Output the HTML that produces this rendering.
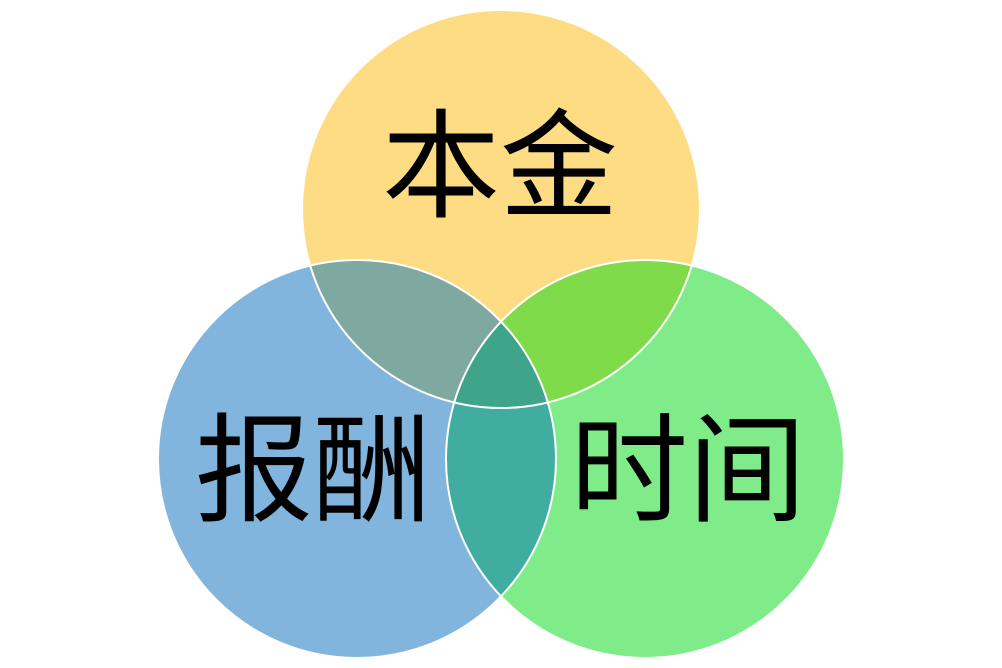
<!DOCTYPE html>
<html><head><meta charset="utf-8"><style>
html,body{margin:0;padding:0;background:#fff;}
svg{display:block}
text{font-family:"Liberation Sans","Noto Sans CJK SC",sans-serif;fill:#000;}
</style></head><body>
<svg width="1002" height="668" viewBox="0 0 1002 668" xmlns="http://www.w3.org/2000/svg">
<defs>
<clipPath id="cT"><circle cx="501" cy="209" r="199"/></clipPath>
<clipPath id="cL"><circle cx="357" cy="459" r="199"/></clipPath>
<clipPath id="cR"><circle cx="645" cy="459" r="199"/></clipPath>
</defs>
<circle cx="501" cy="209" r="199" fill="#FDDC84"/>
<circle cx="357" cy="459" r="199" fill="#81B5DD"/>
<circle cx="645" cy="459" r="199" fill="#80EC89"/>
<g clip-path="url(#cT)"><circle cx="357" cy="459" r="199" fill="#7EA8A0"/></g>
<g clip-path="url(#cT)"><circle cx="645" cy="459" r="199" fill="#80DB4B"/></g>
<g clip-path="url(#cL)"><circle cx="645" cy="459" r="199" fill="#40ADA0"/></g>
<g clip-path="url(#cT)"><g clip-path="url(#cL)"><circle cx="645" cy="459" r="199" fill="#3EA58A"/></g></g>
<circle cx="501" cy="209" r="199" fill="none" stroke="#fff" stroke-width="2"/>
<circle cx="357" cy="459" r="199" fill="none" stroke="#fff" stroke-width="2"/>
<circle cx="645" cy="459" r="199" fill="none" stroke="#fff" stroke-width="2"/>
<text x="500" y="208" font-size="118" text-anchor="middle">本金</text>
<text x="313" y="512" font-size="118" text-anchor="middle">报酬</text>
<text x="688" y="512" font-size="118" text-anchor="middle">时间</text>
</svg>
</body></html>
